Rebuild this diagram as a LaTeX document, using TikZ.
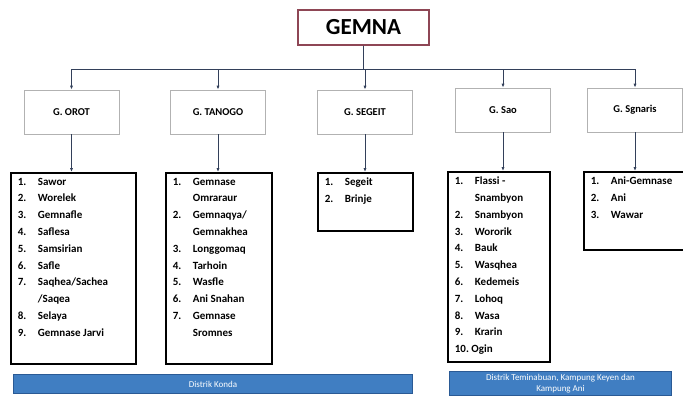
\documentclass[tikz,border=0pt]{standalone}
\usepackage{fontspec}
\setmainfont{Carlito}
\usetikzlibrary{arrows.meta,positioning}
\definecolor{barblue}{HTML}{407EC2}
\definecolor{barline}{HTML}{2A5A95}
\definecolor{rootred}{HTML}{8E4655}
\definecolor{linkgray}{HTML}{33405A}
\newcommand{\li}[2]{\makebox[20bp][l]{#1}#2}
\newcommand{\lc}[1]{\hspace*{20bp}#1}

\begin{document}
\begin{tikzpicture}[x=1bp,y=-1bp,
 font=\bfseries,>={Latex[length=4bp,width=3.2bp]},
 root/.style={draw=rootred,line width=1.4bp,minimum width=131bp,minimum height=35bp,
  font=\fontsize{23bp}{26bp}\selectfont\bfseries},
 gbox/.style={draw=gray!60,line width=0.8bp,minimum width=95bp,minimum height=44bp,
  font=\fontsize{10.5bp}{12bp}\selectfont\bfseries},
 list/.style={draw,line width=1.8bp,anchor=north west,inner xsep=7bp,inner ysep=5bp,
  font=\fontsize{11bp}{16.8bp}\selectfont\bfseries},
 bar/.style={draw=barline,fill=barblue,line width=1bp,anchor=north west,text=white,
  align=center,inner sep=0pt,font=\fontsize{9bp}{10.5bp}\selectfont},
 link/.style={->,draw=linkgray,line width=1bp}]
\useasboundingbox (0,0) rectangle (683,396);
% root and the five gemna
\node[root] (gemna) at (363.5,27.5) {GEMNA};
\node[gbox] (orot) at (71.5,112) {G. OROT};
\node[gbox] (tanogo) at (218,112) {G. TANOGO};
\node[gbox] (segeit) at (365,112) {G. SEGEIT};
\node[gbox] (sao) at (503,110) {G. Sao};
\node[gbox] (sgnaris) at (635,110) {G. Sgnaris};
\coordinate (bus) at (365,69);
\foreach \g in {orot,tanogo,segeit,sao,sgnaris}
 \draw[link] (gemna.south) -- (gemna.south |- bus) -| (\g.north);
% lists of members
\node[list] (orotL) at (10,172) {\parbox[t][181bp][t]{111bp}{%
 \li{1.}{Sawor}\\ \li{2.}{Worelek}\\ \li{3.}{Gemnafle}\\ \li{4.}{Saflesa}\\
 \li{5.}{Samsirian}\\ \li{6.}{Safle}\\ \li{7.}{Saqhea/Sachea}\\ \lc{/Saqea}\\
 \li{8.}{Selaya}\\ \li{9.}{Gemnase Jarvi}}};
\node[list] (tanogoL) at (165,172) {\parbox[t][181bp][t]{92bp}{%
 \li{1.}{Gemnase}\\ \lc{Omraraur}\\ \li{2.}{Gemnaqya/}\\ \lc{Gemnakhea}\\
 \li{3.}{Longgomaq}\\ \li{4.}{Tarhoin}\\ \li{5.}{Wasfle}\\ \li{6.}{Ani Snahan}\\
 \li{7.}{Gemnase}\\ \lc{Sromnes}}};
\node[list] (segeitL) at (317,172) {\parbox[t][48bp][t]{81bp}{%
 \li{1.}{Segeit}\\ \li{2.}{Brinje}}};
\node[list] (saoL) at (447,171) {\parbox[t][180bp][t]{88bp}{%
 \li{1.}{Flassi -}\\ \lc{Snambyon}\\ \li{2.}{Snambyon}\\ \li{3.}{Wororik}\\
 \li{4.}{Bauk}\\ \li{5.}{Wasqhea}\\ \li{6.}{Kedemeis}\\ \li{7.}{Lohoq}\\
 \li{8.}{Wasa}\\ \li{9.}{Krarin}\\ 10.\ Ogin}};
\node[list] (sgnarisL) at (583,171) {\parbox[t][68bp][t]{90bp}{%
 \li{1.}{Ani-Gemnase}\\ \li{2.}{Ani}\\ \li{3.}{Wawar}}};
\foreach \g in {orot,tanogo,segeit,sao,sgnaris}
 \draw[link] (\g.south) -- (\g.south |- \g L.north);
% districts
\node[bar,minimum width=399bp,minimum height=19bp] (konda) at (13,374) {Distrik Konda};
\node[bar,minimum width=222bp,minimum height=24bp] (temi) at (449,371)
 {Distrik Teminabuan, Kampung Keyen dan\\Kampung Ani};
\end{tikzpicture}
\end{document}
